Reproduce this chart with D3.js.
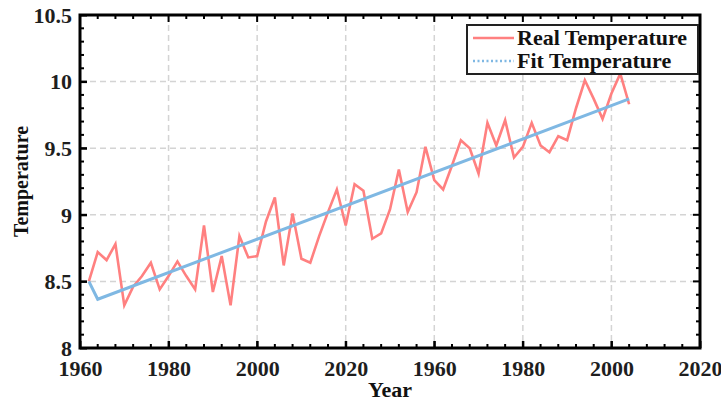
<!DOCTYPE html>
<html>
<head>
<meta charset="utf-8">
<script src="https://cdn.jsdelivr.net/npm/d3@7"></script>
<style>
  body { margin: 0; background: #fff; }
  svg { display: block; font-family: "Liberation Serif", "Times New Roman", serif; font-weight: bold; }
</style>
</head>
<body>
<svg id="chart" width="721" height="403"></svg>
<script>
// x positions of the samples (axis runs 1960..2100, labels repeat every 80)
const years = [1962, 1964, 1966, 1968, 1970, 1972, 1974, 1976, 1978, 1980,
  1982, 1984, 1986, 1988, 1990, 1992, 1994, 1996, 1998, 2000,
  2002, 2004, 2006, 2008, 2010, 2012, 2014, 2016, 2018, 2020,
  2022, 2024, 2026, 2028, 2030, 2032, 2034, 2036, 2038, 2040,
  2042, 2044, 2046, 2048, 2050, 2052, 2054, 2056, 2058, 2060,
  2062, 2064, 2066, 2068, 2070, 2072, 2074, 2076, 2078, 2080,
  2082, 2084];

// real temperature
const realTemp = [8.50, 8.72, 8.66, 8.78, 8.32, 8.46, 8.54, 8.64, 8.44, 8.54,
  8.65, 8.54, 8.44, 8.92, 8.42, 8.69, 8.32, 8.84, 8.68, 8.69,
  8.95, 9.13, 8.62, 9.01, 8.67, 8.64, 8.84, 9.02, 9.19, 8.92,
  9.23, 9.18, 8.82, 8.86, 9.04, 9.34, 9.02, 9.17, 9.51, 9.26,
  9.19, 9.37, 9.56, 9.50, 9.31, 9.69, 9.52, 9.71, 9.43, 9.51,
  9.69, 9.52, 9.47, 9.59, 9.56, 9.80, 10.01, 9.87, 9.72, 9.91,
  10.06, 9.83];

// fitted line: vertices where it bends
const fitYears = [1962, 1964, 2084];
const fitTemp = [8.50, 8.366, 9.87];

const xTicks = [1960, 1980, 2000, 2020, 2040, 2060, 2080, 2100];
const xTickLabels = ['1960', '1980', '2000', '2020', '1960', '1980', '2000', '2020'];
const yTicks = [8, 8.5, 9, 9.5, 10, 10.5];

const svg = d3.select('#chart');
const m = {top: 15, right: 21, bottom: 55, left: 80};
const W = 721, H = 403;
const w = W - m.left - m.right, h = H - m.top - m.bottom;
const g = svg.append('g').attr('transform', `translate(${m.left},${m.top})`);

const x = d3.scaleLinear().domain([1960, 2100]).range([0, w]);
const y = d3.scaleLinear().domain([8, 10.5]).range([h, 0]);

// dashed grid
g.append('g').selectAll('line').data(xTicks.slice(1, -1)).join('line')
  .attr('x1', d => x(d)).attr('x2', d => x(d)).attr('y1', 0).attr('y2', h)
  .attr('stroke', '#d4d4d4').attr('stroke-width', 1.5).attr('stroke-dasharray', '6,4');
g.append('g').selectAll('line').data(yTicks.slice(1, -1)).join('line')
  .attr('x1', 0).attr('x2', w).attr('y1', d => y(d)).attr('y2', d => y(d))
  .attr('stroke', '#d4d4d4').attr('stroke-width', 1.5).attr('stroke-dasharray', '6,4');

// data lines
const realLine = d3.line().x((d, i) => x(years[i])).y(d => y(d));
g.append('path').datum(realTemp)
  .attr('fill', 'none').attr('stroke', '#ff8080').attr('stroke-width', 2.6)
  .attr('stroke-linejoin', 'miter').attr('d', realLine);
const fitLine = d3.line().x((d, i) => x(fitYears[i])).y(d => y(d));
g.append('path').datum(fitTemp)
  .attr('fill', 'none').attr('stroke', '#7fb8e3').attr('stroke-width', 3)
  .attr('d', fitLine);

// axes: inward ticks on all four sides
const minorX = d3.range(1960, 2100.1, 4), minorY = d3.range(8, 10.51, 0.1);
const axisB = d3.axisBottom(x).tickValues(xTicks).tickSize(-7).tickPadding(12)
  .tickFormat((d, i) => xTickLabels[i]);
const axisL = d3.axisLeft(y).tickValues(yTicks).tickSize(-7).tickPadding(8)
  .tickFormat(d3.format('~g'));
const gx = g.append('g').attr('transform', `translate(0,${h})`).call(axisB);
const gy = g.append('g').call(axisL);
[gx, gy].forEach(a => {
  a.select('.domain').remove();
  a.selectAll('line').attr('stroke', '#000').attr('stroke-width', 2);
  a.selectAll('text').attr('fill', '#1e1e1e').style('font-size', '22px')
    .style('font-family', '"Liberation Serif", serif').style('font-weight', 'bold');
});
gy.selectAll('text').attr('dy', '0.33em');

// minor + mirrored ticks
const tk = g.append('g').attr('stroke', '#000').attr('stroke-width', 2);
minorX.forEach(v => {
  const len = xTicks.includes(v) ? 7 : 4;
  tk.append('line').attr('x1', x(v)).attr('x2', x(v)).attr('y1', h).attr('y2', h - len);
  tk.append('line').attr('x1', x(v)).attr('x2', x(v)).attr('y1', 0).attr('y2', len);
});
minorY.forEach(v => {
  const major = yTicks.some(t => Math.abs(t - v) < 1e-6);
  const len = major ? 7 : 4;
  tk.append('line').attr('x1', 0).attr('x2', len).attr('y1', y(v)).attr('y2', y(v));
  tk.append('line').attr('x1', w).attr('x2', w - len).attr('y1', y(v)).attr('y2', y(v));
});

// box
g.append('rect').attr('x', 0).attr('y', 0).attr('width', w).attr('height', h)
  .attr('fill', 'none').attr('stroke', '#000').attr('stroke-width', 3);

// axis titles
svg.append('text').attr('x', m.left + w / 2).attr('y', 397)
  .attr('text-anchor', 'middle').style('font-size', '22px').attr('fill', '#111').text('Year');
svg.append('text').attr('transform', `translate(28,${m.top + h / 2}) rotate(-90)`)
  .attr('text-anchor', 'middle').style('font-size', '20px').attr('fill', '#111').text('Temperature');

// legend
const lg = svg.append('g').attr('transform', 'translate(467,25)');
lg.append('rect').attr('width', 231).attr('height', 49)
  .attr('fill', '#fff').attr('stroke', '#222').attr('stroke-width', 2);
lg.append('line').attr('x1', 6).attr('x2', 47).attr('y1', 13).attr('y2', 13)
  .attr('stroke', '#ff8080').attr('stroke-width', 2.6);
lg.append('line').attr('x1', 6).attr('x2', 47).attr('y1', 36).attr('y2', 36)
  .attr('stroke', '#7fb8e3').attr('stroke-width', 2.6).attr('stroke-dasharray', '2,2.5');
lg.append('text').attr('x', 50).attr('y', 20).style('font-size', '22px').attr('fill', '#111').text('Real Temperature');
lg.append('text').attr('x', 50).attr('y', 43).style('font-size', '22px').attr('fill', '#111').text('Fit Temperature');
</script>
</body>
</html>
